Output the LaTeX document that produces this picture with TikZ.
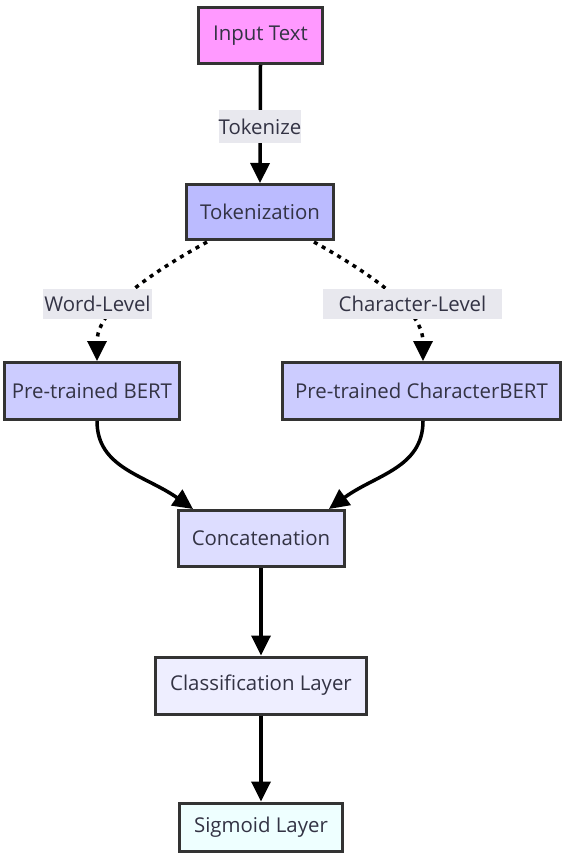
\documentclass[tikz,border=0pt]{standalone}
\usepackage{fontspec}
\setmainfont{Open Sans}
\usetikzlibrary{arrows.meta}
\definecolor{ink}{HTML}{333333}
\definecolor{txt}{HTML}{333344}
\definecolor{lblbg}{HTML}{E8E8EE}
\definecolor{cInput}{HTML}{FF99FF}
\definecolor{cTok}{HTML}{BBBBFF}
\definecolor{cPre}{HTML}{CCCCFF}
\definecolor{cCat}{HTML}{DDDDFF}
\definecolor{cCls}{HTML}{EEEEFF}
\definecolor{cSig}{HTML}{EEFFFF}
\tikzset{
  box/.style={draw=ink, line width=3pt, text=txt, font=\fontsize{20.4}{23}\selectfont,
    inner sep=0pt, align=center},
  edgelabel/.style={fill=lblbg, text=txt, font=\fontsize{20.4}{23}\selectfont,
    inner sep=0pt, align=center},
  flow/.style={draw=black, line width=3.5pt, -{Triangle[width=19pt,length=20pt]}},
  dotflow/.style={flow, dash pattern=on 4pt off 5pt},
}
\begin{document}
\begin{tikzpicture}[x=1pt, y=-1pt]
\useasboundingbox (0,0) rectangle (563,861);
\fill[white] (0,0) rectangle (563,861);

% processing stages
\node[box, fill=cInput, minimum width=124pt, minimum height=56pt] (input) at (260.5,35.5) {Input Text};
\node[box, fill=cTok, minimum width=147pt, minimum height=55pt] (tok) at (260,212) {Tokenization};
\node[box, fill=cPre, minimum width=175pt, minimum height=57pt] (bert) at (92,391) {Pre-trained BERT};
\node[box, fill=cPre, minimum width=278pt, minimum height=57pt] (cbert) at (421.5,391) {Pre-trained CharacterBERT};
\node[box, fill=cCat, minimum width=166pt, minimum height=56pt] (cat) at (261,538.5) {Concatenation};
\node[box, fill=cCls, minimum width=211pt, minimum height=57pt] (cls) at (261,685.5) {Classification Layer};
\node[box, fill=cSig, minimum width=163pt, minimum height=48pt] (sig) at (261,827) {Sigmoid Layer};

% connectors
\draw[flow] (input.south) -- (tok.north);
\draw[dotflow] (tok.south west) ++(22,1) coordinate (tl)
  (tl) .. controls (120,290) and (97,320) .. (bert.north -| 97,0);
\draw[dotflow] (tok.south east) ++(-21,1) coordinate (tr)
  (tr) .. controls (400,290) and (423,320) .. (cbert.north -| 423,0);
\draw[flow] (bert.south -| 97,0) .. controls (97,468) and (145,475) .. (cat.north west -| 193,0);
\draw[flow] (cbert.south -| 423,0) .. controls (423,468) and (375,475) .. (cat.north east -| 329,0);
\draw[flow] (cat.south) -- (cls.north);
\draw[flow] (cls.south) -- (sig.north);

% edge labels
\node[edgelabel, minimum width=82pt, minimum height=33pt] (lt) at (260,126.5) {Tokenize};
\node[edgelabel, minimum width=109pt, minimum height=30pt] (lw) at (97.5,304) {Word-Level};
\node[edgelabel, minimum width=179pt, minimum height=30pt] (lc) at (412.5,304) {Character-Level};
\end{tikzpicture}
\end{document}
